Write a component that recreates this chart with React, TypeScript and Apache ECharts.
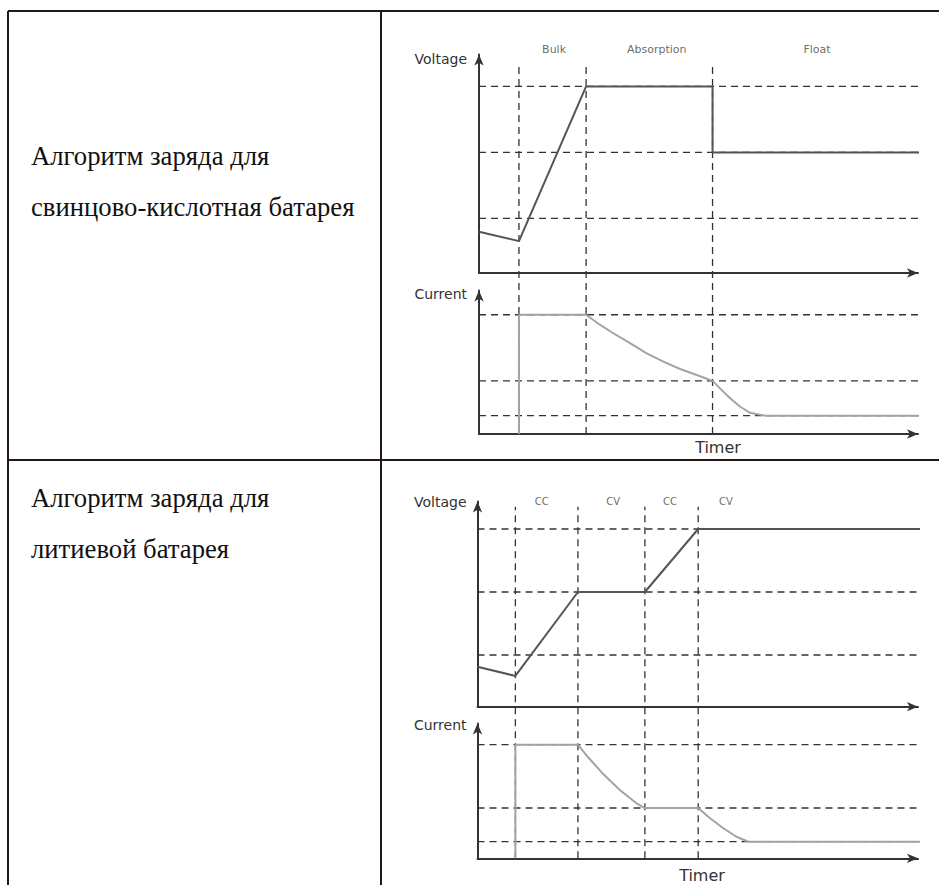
import React, { useEffect, useRef } from "react";
import * as echarts from "echarts";

// ---------- Data: lead-acid battery ----------
const LEAD_TITLE = ["Алгоритм заряда для", "свинцово-кислотная батарея"];
const LEAD_PHASES = ["Bulk", "Absorption", "Float"];
const LEAD_PHASE_X = [17.1, 40.5, 77.0];
const LEAD_BOUNDARIES = [9.1, 24.4, 53.2];
const LEAD_VOLTAGE_LEVELS = [85.4, 55.2, 25.0];
const LEAD_CURRENT_LEVELS = [83.1, 37.0, 12.8];
const LEAD_VOLTAGE = [
  [0, 18.9], [9.1, 14.6], [24.4, 85.4], [53.2, 85.4], [53.2, 55.2], [101.4, 55.2],
];
const LEAD_CURRENT = [
  [9.1, 0], [9.1, 83.1], [24.4, 83.1], [27.6, 76.0], [30.6, 70.2], [34.4, 63.3],
  [38.2, 56.2], [42.0, 50.4], [45.8, 45.3], [49.6, 41.1], [53.2, 37.0], [54.9, 31.8],
  [57.2, 24.9], [59.5, 19.0], [61.7, 14.8], [65.1, 12.8], [101.4, 12.8],
];

// ---------- Data: lithium battery ----------
const LI_TITLE = ["Алгоритм заряда для", "литиевой батарея"];
const LI_PHASES = ["CC", "CV", "CC", "CV"];
const LI_PHASE_X = [14.6, 30.8, 43.7, 56.4];
const LI_BOUNDARIES = [8.6, 22.8, 38.0, 50.1];
const LI_VOLTAGE_LEVELS = [86.6, 55.9, 25.2];
const LI_CURRENT_LEVELS = [84.3, 37.3, 12.3];
const LI_VOLTAGE = [
  [0, 19.5], [8.6, 15.0], [22.8, 55.9], [38.0, 55.9], [50.1, 86.6], [101.4, 86.6],
];
const LI_CURRENT = [
  [8.6, 0], [8.6, 84.3], [22.8, 84.3], [24.8, 76.1], [28.6, 62.3], [32.3, 50.7],
  [36.1, 40.8], [38.0, 37.3], [50.1, 37.3], [52.8, 29.7], [55.8, 22.3], [58.8, 16.0],
  [61.5, 12.3], [101.4, 12.3],
];

const AXIS_NAMES = { voltage: "Voltage", current: "Current", time: "Timer" };

// ---------- Layout / styles ----------
const W = 939;
const H = 885;
const AXIS_COLOR = "#333333";
const DASH_COLOR = "#333333";
const VOLT_COLOR = "#555555";
const CURR_COLOR = "#a3a3a3";
const TABLE_COLOR = "#231815";
const SANS = "DejaVu Sans";
const SERIF = "Liberation Serif";

type Layout = {
  left: number; right: number;
  vTop: number; vBottom: number;
  cTop: number; cBottom: number;
  oTop: number; dashTop: number; labelY: number;
  vNameGap: number; cNameGap: number; namePad: number;
  timerGap: number; timerPad: number; phaseFont: number;
};

const LAYOUT1: Layout = {
  left: 479, right: 918, vTop: 54.5, vBottom: 273, cTop: 290.5, cBottom: 434,
  oTop: 40, dashTop: 94.1, labelY: 97.6, vNameGap: -4, cNameGap: -3, namePad: 12,
  timerGap: 13, timerPad: 39, phaseFont: 11,
};
const LAYOUT2: Layout = {
  left: 477.5, right: 918, vTop: 501.5, vBottom: 706.7, cTop: 723.5, cBottom: 858.3,
  oTop: 485, dashTop: 94.2, labelY: 95.5, vNameGap: 0, cNameGap: -1.5, namePad: 11,
  timerGap: 17, timerPad: 8.5, phaseFont: 10,
};

type PanelData = {
  phases: string[]; phaseX: number[]; boundaries: number[];
  vLevels: number[]; cLevels: number[]; voltage: number[][]; current: number[][];
};

const arrowAxisLine = {
  show: true,
  onZero: false,
  symbol: ["none", "arrow"],
  symbolSize: [7, 11],
  lineStyle: { color: AXIS_COLOR, width: 2 },
};

function buildPanel(d: PanelData, L: Layout, base: number) {
  const gridBox = (top: number, bottom: number) => ({
    left: L.left, width: L.right - L.left, top, height: bottom - top,
    containLabel: false, outerBoundsMode: "none",
  });
  const grids = [
    gridBox(L.vTop, L.vBottom),
    gridBox(L.cTop, L.cBottom),
    gridBox(L.oTop, L.cBottom),
  ];
  const hidden = { axisTick: { show: false }, axisLabel: { show: false }, splitLine: { show: false } };
  const xAxes = [
    { type: "value", gridIndex: base, min: 0, max: 100, axisLine: arrowAxisLine, ...hidden },
    {
      type: "value", gridIndex: base + 1, min: 0, max: 100, axisLine: arrowAxisLine, ...hidden,
      name: AXIS_NAMES.time, nameLocation: "middle", nameGap: L.timerGap, nameMoveOverlap: false,
      nameTextStyle: { fontFamily: SANS, fontSize: 16, color: "#333", verticalAlign: "middle", padding: [0, 0, 0, L.timerPad] },
    },
    { type: "value", gridIndex: base + 2, min: 0, max: 100, show: false },
  ];
  const nameStyle = {
    fontFamily: SANS, fontSize: 14, color: "#333", align: "right", verticalAlign: "middle",
    padding: [0, L.namePad, 0, 0],
  };
  const yAxes = [
    {
      type: "value", gridIndex: base, min: 0, max: 100, axisLine: arrowAxisLine, ...hidden,
      name: AXIS_NAMES.voltage, nameLocation: "end", nameGap: L.vNameGap, nameMoveOverlap: false, nameTextStyle: nameStyle,
    },
    {
      type: "value", gridIndex: base + 1, min: 0, max: 100, axisLine: arrowAxisLine, ...hidden,
      name: AXIS_NAMES.current, nameLocation: "end", nameGap: L.cNameGap, nameMoveOverlap: false, nameTextStyle: nameStyle,
    },
    { type: "value", gridIndex: base + 2, min: 0, max: 100, show: false },
  ];
  const dashed = { color: DASH_COLOR, width: 1.3, type: [7, 5] };
  const levelSeries = (levels: number[], ax: number) =>
    levels.map((lv) => ({
      type: "line", xAxisIndex: ax, yAxisIndex: ax, silent: true, symbol: "none", clip: false,
      data: [[0, lv], [100, lv]], lineStyle: dashed, z: 1,
    }));
  const series: any[] = [
    ...levelSeries(d.vLevels, base),
    ...levelSeries(d.cLevels, base + 1),
    ...d.boundaries.map((b) => ({
      type: "line", xAxisIndex: base + 2, yAxisIndex: base + 2, silent: true, symbol: "none", clip: false,
      data: [[b, 0], [b, L.dashTop]], lineStyle: dashed, z: 1,
    })),
    {
      type: "line", xAxisIndex: base, yAxisIndex: base, silent: true, symbol: "none", clip: false,
      data: d.voltage, lineStyle: { color: VOLT_COLOR, width: 2 }, z: 3,
    },
    {
      type: "line", xAxisIndex: base + 1, yAxisIndex: base + 1, silent: true, symbol: "none", clip: false,
      data: d.current, lineStyle: { color: CURR_COLOR, width: 2 }, z: 3,
    },
    {
      type: "scatter", xAxisIndex: base + 2, yAxisIndex: base + 2, silent: true, symbolSize: 0, clip: false,
      data: d.phases.map((p, i) => ({ name: p, value: [d.phaseX[i], L.labelY] })),
      label: {
        show: true, position: "inside", formatter: "{b}", fontFamily: SANS,
        fontSize: L.phaseFont, color: "#444",
      },
    },
  ];
  return { grids, xAxes, yAxes, series };
}

export default function App() {
  const ref = useRef<HTMLDivElement>(null);
  useEffect(() => {
    if (!ref.current) return;
    const chart = echarts.init(ref.current, null, { renderer: "svg" });
    const p1 = buildPanel(
      { phases: LEAD_PHASES, phaseX: LEAD_PHASE_X, boundaries: LEAD_BOUNDARIES, vLevels: LEAD_VOLTAGE_LEVELS,
        cLevels: LEAD_CURRENT_LEVELS, voltage: LEAD_VOLTAGE, current: LEAD_CURRENT },
      LAYOUT1, 0);
    const p2 = buildPanel(
      { phases: LI_PHASES, phaseX: LI_PHASE_X, boundaries: LI_BOUNDARIES, vLevels: LI_VOLTAGE_LEVELS,
        cLevels: LI_CURRENT_LEVELS, voltage: LI_VOLTAGE, current: LI_CURRENT },
      LAYOUT2, 3);
    const titleStyle = { fontFamily: SERIF, fontSize: 26.7, fontWeight: "normal", color: "#111", lineHeight: 51 };
    const tl = (x1: number, y1: number, x2: number, y2: number) => ({
      type: "line", silent: true, z: 0, shape: { x1, y1, x2, y2 },
      style: { stroke: TABLE_COLOR, lineWidth: 2 },
    });
    chart.setOption({
      animation: false,
      backgroundColor: "#ffffff",
      title: [
        { text: LEAD_TITLE.join("\n"), left: 31, top: 130.5, padding: 0, textStyle: titleStyle },
        { text: LI_TITLE.join("\n"), left: 31, top: 472.4, padding: 0, textStyle: titleStyle },
      ],
      graphic: [tl(8, 11, W, 11), tl(8, 11, 8, H), tl(381, 11, 381, H), tl(8, 460, W, 460)],
      grid: [...p1.grids, ...p2.grids],
      xAxis: [...p1.xAxes, ...p2.xAxes],
      yAxis: [...p1.yAxes, ...p2.yAxes],
      series: [...p1.series, ...p2.series],
    });
    return () => chart.dispose();
  }, []);
  return (
    <div
      ref={ref}
      style={{ position: "fixed", left: 0, top: 0, width: W, height: H, background: "#fff" }}
    />
  );
}
